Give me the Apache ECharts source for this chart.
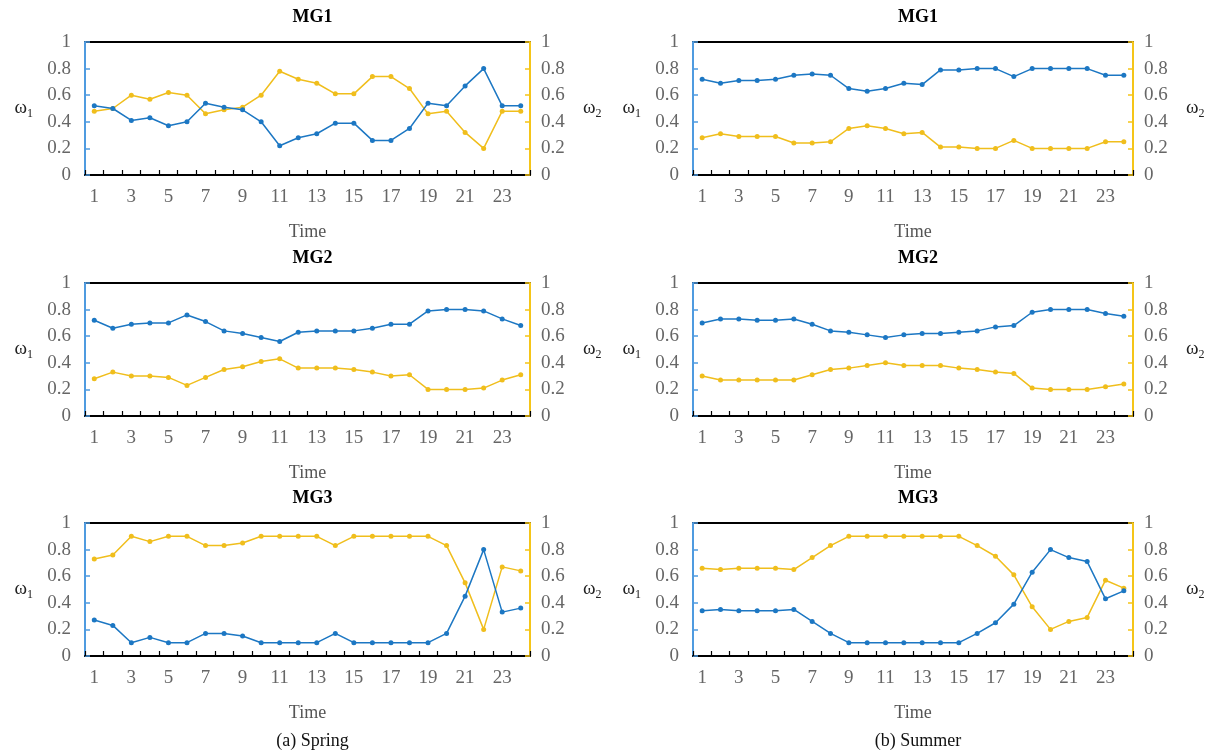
<!DOCTYPE html>
<html>
<head>
<meta charset="utf-8">
<script src="https://cdn.jsdelivr.net/npm/echarts@6/dist/echarts.min.js"></script>
<style>html,body{margin:0;padding:0;background:#fff}#c{width:1217px;height:753px}</style>
</head>
<body>
<div id="c"></div>
<script>
const times = ["1","2","3","4","5","6","7","8","9","10","11","12","13","14","15","16","17","18","19","20","21","22","23","24"];
const yTicks = [0, 0.2, 0.4, 0.6, 0.8, 1];
const panelTitles = ["MG1", "MG2", "MG3"];
const captions = ["(a) Spring", "(b) Summer"];

const springMG1_w1 = [0.52,0.50,0.41,0.43,0.37,0.40,0.54,0.51,0.49,0.40,0.22,0.28,0.31,0.39,0.39,0.26,0.26,0.35,0.54,0.52,0.67,0.80,0.52,0.52];
const springMG1_w2 = [0.48,0.50,0.60,0.57,0.62,0.60,0.46,0.49,0.51,0.60,0.78,0.72,0.69,0.61,0.61,0.74,0.74,0.65,0.46,0.48,0.32,0.20,0.48,0.48];
const springMG2_w1 = [0.72,0.66,0.69,0.70,0.70,0.76,0.71,0.64,0.62,0.59,0.56,0.63,0.64,0.64,0.64,0.66,0.69,0.69,0.79,0.80,0.80,0.79,0.73,0.68];
const springMG2_w2 = [0.28,0.33,0.30,0.30,0.29,0.23,0.29,0.35,0.37,0.41,0.43,0.36,0.36,0.36,0.35,0.33,0.30,0.31,0.20,0.20,0.20,0.21,0.27,0.31];
const springMG3_w1 = [0.27,0.23,0.10,0.14,0.10,0.10,0.17,0.17,0.15,0.10,0.10,0.10,0.10,0.17,0.10,0.10,0.10,0.10,0.10,0.17,0.45,0.80,0.33,0.36];
const springMG3_w2 = [0.73,0.76,0.90,0.86,0.90,0.90,0.83,0.83,0.85,0.90,0.90,0.90,0.90,0.83,0.90,0.90,0.90,0.90,0.90,0.83,0.55,0.20,0.67,0.64];

const summerMG1_w1 = [0.72,0.69,0.71,0.71,0.72,0.75,0.76,0.75,0.65,0.63,0.65,0.69,0.68,0.79,0.79,0.80,0.80,0.74,0.80,0.80,0.80,0.80,0.75,0.75];
const summerMG1_w2 = [0.28,0.31,0.29,0.29,0.29,0.24,0.24,0.25,0.35,0.37,0.35,0.31,0.32,0.21,0.21,0.20,0.20,0.26,0.20,0.20,0.20,0.20,0.25,0.25];
const summerMG2_w1 = [0.70,0.73,0.73,0.72,0.72,0.73,0.69,0.64,0.63,0.61,0.59,0.61,0.62,0.62,0.63,0.64,0.67,0.68,0.78,0.80,0.80,0.80,0.77,0.75];
const summerMG2_w2 = [0.30,0.27,0.27,0.27,0.27,0.27,0.31,0.35,0.36,0.38,0.40,0.38,0.38,0.38,0.36,0.35,0.33,0.32,0.21,0.20,0.20,0.20,0.22,0.24];
const summerMG3_w1 = [0.34,0.35,0.34,0.34,0.34,0.35,0.26,0.17,0.10,0.10,0.10,0.10,0.10,0.10,0.10,0.17,0.25,0.39,0.63,0.80,0.74,0.71,0.43,0.49];
const summerMG3_w2 = [0.66,0.65,0.66,0.66,0.66,0.65,0.74,0.83,0.90,0.90,0.90,0.90,0.90,0.90,0.90,0.83,0.75,0.61,0.37,0.20,0.26,0.29,0.57,0.51];

const panels = [
  [springMG1_w1, springMG1_w2], [summerMG1_w1, summerMG1_w2],
  [springMG2_w1, springMG2_w2], [summerMG2_w1, summerMG2_w2],
  [springMG3_w1, springMG3_w2], [summerMG3_w1, summerMG3_w2]
];

const FONT = '"Liberation Serif", "DejaVu Serif", serif';
const BLUE = '#1c77c3', YELLOW = '#f0be1c';
const BLUE_AX = '#4f9be0', YELLOW_AX = '#f5c518';
const rowTops = [42, 283, 523];
const colLeft = [85, 693];
const colWidth = [445, 440];
const H = 133;

const grid = [], xAxis = [], yAxis = [], series = [], title = [];
for (let r = 0; r < 3; r++) {
  for (let c = 0; c < 2; c++) {
    const i = r * 2 + c;
    grid.push({left: colLeft[c], top: rowTops[r], width: colWidth[c], height: H,
      show: true, borderColor: '#000', borderWidth: 2, backgroundColor: 'transparent'});
    xAxis.push({type: 'category', gridIndex: i, data: times, boundaryGap: true,
      name: 'Time', nameLocation: 'middle', nameGap: 48,
      nameTextStyle: {fontFamily: FONT, fontSize: 18, color: '#555'},
      axisLine: {lineStyle: {color: '#000', width: 2}},
      axisTick: {show: true, inside: true, length: 5, interval: 0, lineStyle: {color: '#000', width: 1.2}},
      axisLabel: {interval: 1, margin: 13, fontFamily: FONT, fontSize: 19, color: '#666'},
      splitLine: {show: false}});
    const yCommon = {type: 'value', gridIndex: i, min: yTicks[0], max: yTicks[yTicks.length - 1], interval: 0.2,
      nameLocation: 'middle', nameRotate: 0, splitLine: {show: false}};
    yAxis.push(Object.assign({}, yCommon, {position: 'left',
      name: 'ω{s|1}', nameGap: 52,
      nameTextStyle: {fontFamily: FONT, fontSize: 19, color: '#222', rich: {s: {fontFamily: FONT, fontSize: 12, color: '#222', verticalAlign: 'bottom', padding: [10, 0, 0, 0]}}},
      axisLine: {show: true, lineStyle: {color: BLUE_AX, width: 2}},
      axisTick: {show: true, inside: true, length: 5, lineStyle: {color: BLUE_AX, width: 1.5}},
      axisLabel: {margin: 14, fontFamily: FONT, fontSize: 19, color: '#666'}}));
    yAxis.push(Object.assign({}, yCommon, {position: 'right',
      name: 'ω{s|2}', nameGap: 53,
      nameTextStyle: {fontFamily: FONT, fontSize: 19, color: '#222', rich: {s: {fontFamily: FONT, fontSize: 12, color: '#222', verticalAlign: 'bottom', padding: [10, 0, 0, 0]}}},
      axisLine: {show: true, lineStyle: {color: YELLOW_AX, width: 2}},
      axisTick: {show: true, inside: true, length: 5, lineStyle: {color: YELLOW_AX, width: 1.5}},
      axisLabel: {margin: 11, fontFamily: FONT, fontSize: 19, color: '#666'}}));
    series.push({type: 'line', xAxisIndex: i, yAxisIndex: i * 2, data: panels[i][0],
      symbol: 'circle', symbolSize: 5, itemStyle: {color: BLUE}, lineStyle: {color: BLUE, width: 1.5}, z: 3});
    series.push({type: 'line', xAxisIndex: i, yAxisIndex: i * 2 + 1, data: panels[i][1],
      symbol: 'circle', symbolSize: 5, itemStyle: {color: YELLOW}, lineStyle: {color: YELLOW, width: 1.5}, z: 2});
    title.push({text: panelTitles[r], left: colLeft[c] + colWidth[c] / 2, top: rowTops[r] - 39, textAlign: 'center',
      textStyle: {fontFamily: FONT, fontSize: 18, fontWeight: 'bold', color: '#000'}});
  }
}
for (let c = 0; c < 2; c++) {
  title.push({text: captions[c], left: colLeft[c] + colWidth[c] / 2, top: 727, textAlign: 'center',
    textStyle: {fontFamily: FONT, fontSize: 18, fontWeight: 'normal', color: '#111'}});
}

const chart = echarts.init(document.getElementById('c'), null, {renderer: 'canvas'});
chart.setOption({animation: false, backgroundColor: '#fff', title, grid, xAxis, yAxis, series});
</script>
</body>
</html>
